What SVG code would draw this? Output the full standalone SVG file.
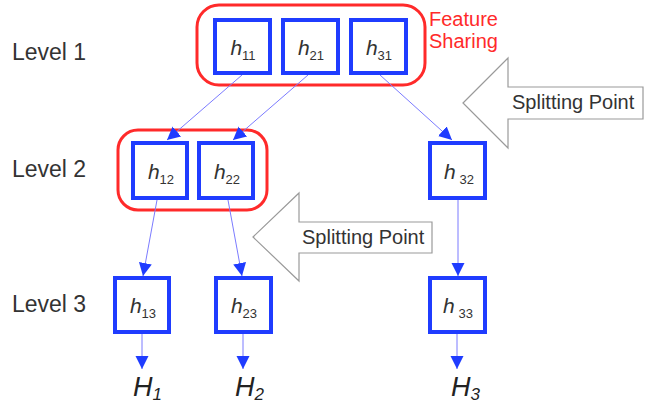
<svg xmlns="http://www.w3.org/2000/svg" width="657" height="403" viewBox="0 0 657 403">
<defs>
<style>
.box{fill:#fff;stroke:#1f3cff;stroke-width:4}
.grp{fill:none;stroke:#ff2a2a;stroke-width:3}
.hl{font-family:"Liberation Sans",Arial,sans-serif;font-size:21px;fill:#333;text-anchor:middle}
.lvl{font-family:"Liberation Sans",Arial,sans-serif;font-size:23px;fill:#333}
.sp{font-family:"Liberation Sans",Arial,sans-serif;font-size:20px;fill:#333}
.fs{font-family:"Liberation Sans",Arial,sans-serif;font-size:20px;fill:#ff2a2a}
.big{font-family:"Liberation Sans",Arial,sans-serif;font-size:27px;fill:#222;font-style:italic}
.con{stroke:#7b7bff;stroke-width:1;fill:none;marker-end:url(#ah)}
.blk{fill:#fff;stroke:#9a9a9a;stroke-width:1.2}
</style>
<marker id="ah" markerUnits="userSpaceOnUse" markerWidth="14" markerHeight="14" refX="13" refY="6.5" orient="auto" viewBox="0 0 14 14">
<path d="M0,0 L13,6.5 L0,13 z" fill="#1f3cff"/>
</marker>
</defs>
<rect width="657" height="403" fill="#fff"/>

<g id="level-labels">
<text class="lvl" x="12" y="60">Level 1</text>
<text class="lvl" x="12" y="177">Level 2</text>
<text class="lvl" x="12" y="312">Level 3</text>
</g>

<g id="split-1">
<polygon class="blk" points="463,103 508,58 508,87 643,87 643,119 508,119 508,148"/>
<text class="sp" x="512" y="109">Splitting Point</text>
</g>
<g id="split-2">
<polygon class="blk" points="253,237 299,193 299,222 432,222 432,253 299,253 299,281"/>
<text class="sp" x="302" y="244">Splitting Point</text>
</g>

<g id="feature-sharing-1">
<rect class="grp" x="197" y="5" width="228" height="80" rx="22"/>
<text class="fs" x="429" y="26">Feature</text>
<text class="fs" x="429" y="48">Sharing</text>
</g>
<g id="feature-sharing-2">
<rect class="grp" x="118" y="130" width="149" height="80" rx="20"/>
</g>

<g id="connectors">
<line class="con" x1="242" y1="75" x2="167" y2="140"/>
<line class="con" x1="308" y1="75" x2="233" y2="140"/>
<line class="con" x1="380" y1="75" x2="452" y2="140"/>
<line class="con" x1="157" y1="200" x2="143" y2="276"/>
<line class="con" x1="228" y1="200" x2="242" y2="276"/>
<line class="con" x1="458" y1="200" x2="458" y2="276"/>
<line class="con" x1="142" y1="334" x2="142" y2="369"/>
<line class="con" x1="243" y1="334" x2="243" y2="369"/>
<line class="con" x1="457" y1="334" x2="457" y2="369"/>
</g>

<g id="h11"><rect class="box" x="215" y="20" width="55" height="53"/><text class="hl" x="243" y="55"><tspan font-style="italic">h</tspan><tspan font-size="13" dy="5">11</tspan></text></g>
<g id="h21"><rect class="box" x="283" y="20" width="55" height="53"/><text class="hl" x="311" y="55"><tspan font-style="italic">h</tspan><tspan font-size="13" dy="5">21</tspan></text></g>
<g id="h31"><rect class="box" x="351" y="20" width="55" height="53"/><text class="hl" x="379" y="55"><tspan font-style="italic">h</tspan><tspan font-size="13" dy="5">31</tspan></text></g>

<g id="h12"><rect class="box" x="133" y="143" width="54" height="55"/><text class="hl" x="161" y="179"><tspan font-style="italic">h</tspan><tspan font-size="13" dy="5">12</tspan></text></g>
<g id="h22"><rect class="box" x="199" y="143" width="54" height="55"/><text class="hl" x="227" y="179"><tspan font-style="italic">h</tspan><tspan font-size="13" dy="5">22</tspan></text></g>
<g id="h32"><rect class="box" x="430" y="143" width="55" height="55"/><text class="hl" x="459" y="179"><tspan font-style="italic">h</tspan><tspan font-size="13" dy="5"> 32</tspan></text></g>

<g id="h13"><rect class="box" x="115" y="278" width="54" height="54"/><text class="hl" x="143" y="313"><tspan font-style="italic">h</tspan><tspan font-size="13" dy="5">13</tspan></text></g>
<g id="h23"><rect class="box" x="216" y="278" width="55" height="54"/><text class="hl" x="244" y="313"><tspan font-style="italic">h</tspan><tspan font-size="13" dy="5">23</tspan></text></g>
<g id="h33"><rect class="box" x="430" y="278" width="55" height="54"/><text class="hl" x="458" y="313"><tspan font-style="italic">h</tspan><tspan font-size="13" dy="5"> 33</tspan></text></g>

<g id="H1"><text class="big" x="133" y="396">H<tspan font-size="17" dy="4">1</tspan></text></g>
<g id="H2"><text class="big" x="235" y="396">H<tspan font-size="17" dy="4">2</tspan></text></g>
<g id="H3"><text class="big" x="451" y="396">H<tspan font-size="17" dy="4">3</tspan></text></g>
</svg>
